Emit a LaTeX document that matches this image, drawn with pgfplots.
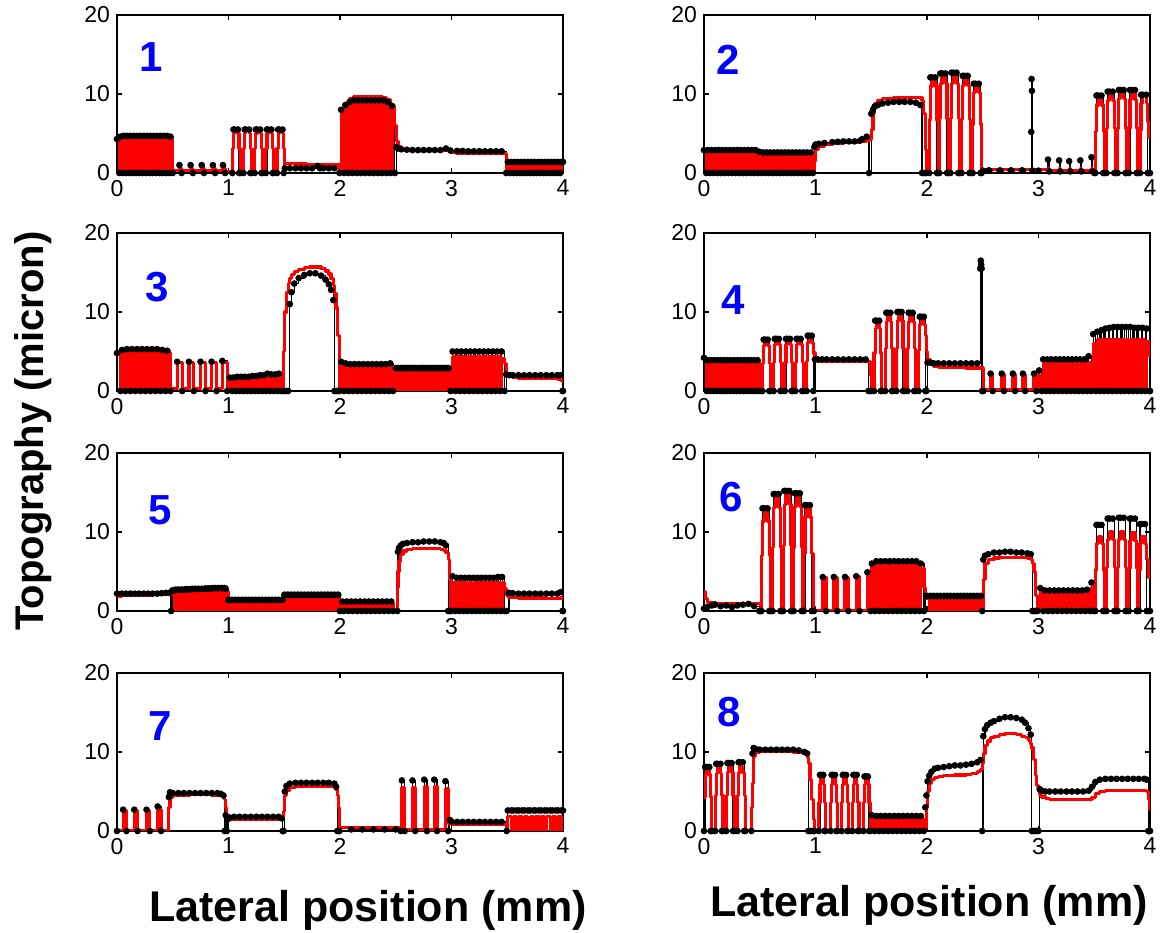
\documentclass[border=0pt]{standalone}
\usepackage{fontspec}
\setmainfont{Liberation Sans}
\usepackage{pgfplots}
\usepackage{pgfplotstable}
\pgfplotsset{compat=1.18}

\pgfplotstableread[row sep=\\]{
x b r\\
0.000 4.3 4.1\\ 0.020 0 0\\ 0.030 4.6 4.4\\ 0.050 0 0\\ 0.060 4.7 4.5\\ 0.080 0 0\\ 0.090 4.7 4.5\\ 0.110 0 0\\
0.120 4.7 4.5\\ 0.140 0 0\\ 0.150 4.7 4.5\\ 0.170 0 0\\ 0.180 4.7 4.5\\ 0.200 0 0\\ 0.210 4.7 4.5\\ 0.230 0 0\\
0.240 4.7 4.5\\ 0.260 0 0\\ 0.270 4.7 4.5\\ 0.290 0 0\\ 0.300 4.7 4.5\\ 0.320 0 0\\ 0.330 4.7 4.5\\ 0.350 0 0\\
0.360 4.7 4.5\\ 0.380 0 0\\ 0.390 4.7 4.5\\ 0.410 0 0\\ 0.420 4.7 4.5\\ 0.440 0 0\\ 0.450 4.7 4.5\\ 0.470 0 0\\
0.480 4.6 4.5\\ 0.500 0 0.3\\
0.560 1.0 0.5\\ 0.580 0 0.3\\ 0.660 1.0 0.5\\ 0.680 0 0.3\\ 0.760 1.0 0.5\\ 0.780 0 0.3\\ 0.860 1.0 0.5\\ 0.880 0 0.3\\ 0.950 1.0 0.5\\ 0.970 0 0.2\\
1.035 0 3.1\\ 1.045 5.5 5.0\\ 1.055 5.5 5.6\\ 1.085 5.5 5.0\\ 1.095 0 3.1\\ 1.105 0 0.1\\
1.135 0 3.1\\ 1.145 5.5 5.0\\ 1.155 5.5 5.6\\ 1.185 5.5 5.0\\ 1.195 0 3.1\\ 1.205 0 0.1\\
1.235 0 3.1\\ 1.245 5.5 5.0\\ 1.255 5.5 5.6\\ 1.285 5.5 5.0\\ 1.295 0 3.1\\ 1.305 0 0.1\\
1.335 0 3.1\\ 1.345 5.5 5.0\\ 1.355 5.5 5.6\\ 1.385 5.5 5.0\\ 1.395 0 3.1\\ 1.405 0 0.1\\
1.435 0 3.1\\ 1.445 5.5 5.0\\ 1.455 5.5 5.6\\ 1.485 5.5 5.0\\ 1.495 0 3.1\\
1.505 0.6 1.2\\ 1.55 0.6 1.2\\ 1.60 0.6 1.15\\ 1.65 0.6 1.15\\ 1.70 0.6 1.1\\ 1.75 0.6 1.1\\ 1.80 0.9 1.1\\ 1.82 0.6 1.05\\ 1.85 0.6 1.05\\ 1.90 0.6 1.0\\ 1.95 0.6 1.0\\ 1.995 0 0\\
2.010 8.0 7.9\\ 2.036 0 0\\ 2.048 8.6 8.8\\ 2.074 0 0\\ 2.086 9.0 9.4\\ 2.112 0 0\\ 2.124 9.2 9.7\\ 2.150 0 0\\
2.162 9.2 9.7\\ 2.188 0 0\\ 2.200 9.2 9.7\\ 2.226 0 0\\ 2.238 9.2 9.7\\ 2.264 0 0\\ 2.276 9.2 9.7\\ 2.302 0 0\\
2.314 9.2 9.7\\ 2.340 0 0\\ 2.352 9.2 9.7\\ 2.378 0 0\\ 2.390 9.2 9.6\\ 2.416 0 0\\ 2.428 9.0 9.3\\ 2.454 0 0\\
2.466 8.5 8.5\\ 2.492 0 6.0\\
2.505 3.3 4.0\\ 2.520 3.1 3.3\\ 2.550 3.0 3.0\\ 2.600 2.95 2.85\\ 2.65 2.9 2.8\\ 2.70 2.9 2.8\\ 2.75 2.9 2.8\\ 2.80 2.9 2.8\\ 2.85 2.9 2.8\\ 2.90 2.9 2.8\\
2.950 3.1 2.95\\ 2.990 2.85 2.6\\ 3.050 2.8 2.5\\ 3.10 2.8 2.45\\ 3.15 2.75 2.45\\ 3.20 2.75 2.45\\ 3.25 2.75 2.45\\ 3.30 2.75 2.45\\ 3.35 2.75 2.45\\ 3.40 2.75 2.45\\ 3.45 2.75 2.45\\ 3.490 0 0\\
3.505 1.4 1.0\\ 3.525 0 0\\ 3.535 1.4 1.0\\ 3.555 0 0\\ 3.565 1.4 1.0\\ 3.585 0 0\\ 3.595 1.4 1.0\\ 3.615 0 0\\
3.625 1.4 1.0\\ 3.645 0 0\\ 3.655 1.4 1.0\\ 3.675 0 0\\ 3.685 1.4 1.0\\ 3.705 0 0\\ 3.715 1.4 1.0\\ 3.735 0 0\\
3.745 1.4 1.0\\ 3.765 0 0\\ 3.775 1.4 1.0\\ 3.795 0 0\\ 3.805 1.4 1.0\\ 3.825 0 0\\ 3.835 1.4 1.0\\ 3.855 0 0\\
3.865 1.4 1.0\\ 3.885 0 0\\ 3.895 1.4 1.0\\ 3.915 0 0\\ 3.925 1.4 1.0\\ 3.945 0 0\\ 3.955 1.4 1.0\\ 3.975 0 0\\
3.985 1.4 1.0\\ 4.000 1.4 1.0\\
}\tA

\pgfplotstableread[row sep=\\]{
x b r\\
0.000 2.9 2.8\\ 0.020 0 0\\ 0.033 2.9 2.8\\ 0.053 0 0\\ 0.066 2.9 2.8\\ 0.086 0 0\\ 0.099 2.9 2.8\\ 0.119 0 0\\
0.132 2.9 2.8\\ 0.152 0 0\\ 0.165 2.9 2.8\\ 0.185 0 0\\ 0.198 2.9 2.8\\ 0.218 0 0\\ 0.231 2.9 2.8\\ 0.251 0 0\\
0.264 2.9 2.8\\ 0.284 0 0\\ 0.297 2.9 2.8\\ 0.317 0 0\\ 0.330 2.9 2.8\\ 0.350 0 0\\ 0.363 2.9 2.8\\ 0.383 0 0\\
0.396 2.9 2.8\\ 0.416 0 0\\ 0.429 2.9 2.8\\ 0.449 0 0\\ 0.462 2.9 2.8\\ 0.482 0 0\\ 0.495 2.7 2.6\\ 0.515 0 0\\
0.528 2.6 2.5\\ 0.548 0 0\\ 0.561 2.6 2.5\\ 0.581 0 0\\ 0.594 2.6 2.5\\ 0.614 0 0\\ 0.627 2.6 2.5\\ 0.647 0 0\\
0.660 2.6 2.5\\ 0.680 0 0\\ 0.693 2.6 2.5\\ 0.713 0 0\\ 0.726 2.6 2.5\\ 0.746 0 0\\ 0.759 2.6 2.5\\ 0.779 0 0\\
0.792 2.6 2.5\\ 0.812 0 0\\ 0.825 2.6 2.5\\ 0.845 0 0\\ 0.858 2.6 2.5\\ 0.878 0 0\\ 0.891 2.6 2.5\\ 0.911 0 0\\
0.924 2.6 2.5\\ 0.944 0 0\\ 0.957 2.6 2.5\\ 0.977 0 0\\
0.990 3.3 1.5\\ 1.000 3.6 3.0\\ 1.030 3.7 3.4\\ 1.080 3.8 3.6\\ 1.150 3.9 3.75\\ 1.200 3.95 3.8\\ 1.250 4.0 3.85\\ 1.300 4.0 3.85\\ 1.350 4.0 3.9\\ 1.400 4.1 3.95\\ 1.420 4.3 4.0\\ 1.460 4.6 4.1\\ 1.480 0 4.3\\
1.500 7.5 5.5\\ 1.515 8.0 7.5\\ 1.530 8.4 8.8\\ 1.560 8.6 9.2\\ 1.600 8.8 9.4\\ 1.650 8.9 9.45\\ 1.700 9.0 9.5\\ 1.750 9.0 9.5\\ 1.800 9.0 9.6\\ 1.850 9.0 9.6\\ 1.900 8.9 9.6\\ 1.940 8.6 9.5\\ 1.955 0 9.2\\ 1.970 0 7.5\\ 1.985 0 3.0\\ 1.995 0 0\\
2.020 0 6.7\\ 2.030 12.1 11.0\\ 2.045 12.1 12.2\\ 2.075 12.1 11.0\\ 2.090 0 6.7\\ 2.100 0 0\\
2.110 0 6.9\\ 2.120 12.6 11.3\\ 2.135 12.6 12.6\\ 2.165 12.6 11.3\\ 2.180 0 6.9\\ 2.190 0 0\\
2.210 0 6.9\\ 2.220 12.7 11.3\\ 2.235 12.7 12.6\\ 2.265 12.7 11.3\\ 2.280 0 6.9\\ 2.290 0 0\\
2.310 0 6.8\\ 2.320 12.3 11.1\\ 2.335 12.3 12.3\\ 2.365 12.3 11.1\\ 2.380 0 6.8\\ 2.390 0 0\\
2.410 0 6.2\\ 2.420 11.3 10.2\\ 2.435 11.3 11.3\\ 2.465 11.3 10.2\\ 2.480 0 6.2\\ 2.490 0 0\\
2.500 0.3 0.4\\ 2.550 0.3 0.55\\ 2.560 0.3 0.4\\ 2.650 0.3 0.55\\ 2.660 0.3 0.4\\ 2.750 0.3 0.55\\ 2.760 0.3 0.4\\ 2.850 0.3 0.55\\ 2.860 0.3 0.4\\
2.935 5.2 0.4\\ 2.938 11.9 0.4\\ 2.941 10.4 0.4\\ 2.944 0.3 0.4\\ 3.000 0.3 0.4\\
3.085 1.7 0.5\\ 3.095 0.2 0.35\\ 3.185 1.6 0.5\\ 3.195 0.2 0.35\\ 3.275 1.5 0.5\\ 3.285 0.2 0.35\\ 3.375 1.6 0.5\\ 3.385 0.2 0.35\\ 3.475 2.0 0.5\\ 3.485 0.2 0.35\\ 3.500 0 0.35\\
3.510 0 5.3\\ 3.520 9.8 8.6\\ 3.535 9.8 9.6\\ 3.565 9.8 8.6\\ 3.580 0 5.3\\ 3.590 0 0\\
3.610 0 5.6\\ 3.620 10.3 9.2\\ 3.635 10.3 10.2\\ 3.665 10.3 9.2\\ 3.680 0 5.6\\ 3.690 0 0\\
3.710 0 5.7\\ 3.720 10.5 9.4\\ 3.735 10.5 10.4\\ 3.765 10.5 9.4\\ 3.780 0 5.7\\ 3.790 0 0\\
3.810 0 5.7\\ 3.820 10.5 9.3\\ 3.835 10.5 10.3\\ 3.865 10.5 9.3\\ 3.880 0 5.7\\ 3.890 0 0\\
3.910 0 5.4\\ 3.920 9.9 8.8\\ 3.935 9.9 9.8\\ 3.965 9.9 8.8\\ 3.980 0 6.5\\ 3.990 0 4.5\\ 4.000 0 4.5\\
}\tB

\pgfplotstableread[row sep=\\]{
x b r\\
0.000 4.8 4.6\\ 0.030 0 0\\ 0.045 5.2 5.0\\ 0.075 0 0\\ 0.090 5.3 5.1\\ 0.120 0 0\\ 0.135 5.3 5.1\\ 0.165 0 0\\
0.180 5.3 5.1\\ 0.210 0 0\\ 0.225 5.3 5.1\\ 0.255 0 0\\ 0.270 5.3 5.1\\ 0.300 0 0\\ 0.315 5.3 5.1\\ 0.345 0 0\\
0.360 5.3 5.1\\ 0.390 0 0\\ 0.405 5.2 5.0\\ 0.435 0 0\\ 0.450 5.1 4.9\\ 0.480 0 0.3\\
0.540 3.7 3.6\\ 0.584 0 0.3\\ 0.645 3.7 3.6\\ 0.689 0 0.3\\ 0.749 3.7 3.6\\ 0.793 0 0.3\\ 0.848 3.7 3.6\\ 0.892 0 0.3\\ 0.944 3.8 3.6\\ 0.988 0 0.3\\
1.010 1.7 1.5\\ 1.032 0 0\\ 1.044 1.7 1.5\\ 1.066 0 0\\ 1.078 1.8 1.5\\ 1.100 0 0\\ 1.112 1.8 1.5\\ 1.134 0 0\\
1.146 1.8 1.6\\ 1.168 0 0\\ 1.180 1.8 1.6\\ 1.202 0 0\\ 1.214 1.9 1.6\\ 1.236 0 0\\ 1.248 1.9 1.6\\ 1.270 0 0\\
1.282 2.0 1.7\\ 1.304 0 0\\ 1.316 2.0 1.7\\ 1.338 0 0\\ 1.350 2.2 1.8\\ 1.372 0 0\\ 1.384 2.1 1.8\\ 1.406 0 0\\
1.418 2.1 1.8\\ 1.440 0 0\\ 1.452 2.2 1.8\\ 1.474 0 0\\
1.490 0 5.0\\ 1.505 0 10.0\\ 1.520 0 12.5\\ 1.535 0 13.6\\ 1.550 11.0 14.2\\ 1.565 12.5 14.7\\ 1.590 13.6 15.1\\ 1.630 14.3 15.4\\ 1.680 14.7 15.6\\ 1.730 14.9 15.7\\ 1.780 14.9 15.7\\ 1.830 14.6 15.5\\ 1.870 14.1 15.2\\ 1.900 13.5 14.8\\ 1.920 12.8 14.2\\ 1.940 11.5 13.4\\ 1.950 0 12.3\\ 1.965 0 10.5\\ 1.980 0 7.0\\ 1.995 0 0\\
2.010 3.7 3.3\\ 2.036 0 0\\ 2.050 3.5 3.1\\ 2.076 0 0\\ 2.090 3.4 3.1\\ 2.116 0 0\\ 2.130 3.4 3.1\\ 2.156 0 0\\
2.170 3.4 3.1\\ 2.196 0 0\\ 2.210 3.4 3.1\\ 2.236 0 0\\ 2.250 3.4 3.1\\ 2.276 0 0\\ 2.290 3.4 3.1\\ 2.316 0 0\\
2.330 3.4 3.1\\ 2.356 0 0\\ 2.370 3.4 3.1\\ 2.396 0 0\\ 2.410 3.4 3.1\\ 2.436 0 0\\ 2.450 3.5 3.1\\ 2.476 0 0\\
2.500 2.9 2.6\\ 2.517 2.9 0\\ 2.525 2.9 2.6\\ 2.542 2.9 0\\ 2.550 2.9 2.6\\ 2.567 2.9 0\\ 2.575 2.9 2.6\\ 2.592 2.9 0\\
2.600 2.9 2.6\\ 2.617 2.9 0\\ 2.625 2.9 2.6\\ 2.642 2.9 0\\ 2.650 2.9 2.6\\ 2.667 2.9 0\\ 2.675 2.9 2.6\\ 2.692 2.9 0\\
2.700 2.9 2.6\\ 2.717 2.9 0\\ 2.725 2.9 2.6\\ 2.742 2.9 0\\ 2.750 2.9 2.6\\ 2.767 2.9 0\\ 2.775 2.9 2.6\\ 2.792 2.9 0\\
2.800 2.9 2.6\\ 2.817 2.9 0\\ 2.825 2.9 2.6\\ 2.842 2.9 0\\ 2.850 2.9 2.6\\ 2.867 2.9 0\\ 2.875 2.9 2.6\\ 2.892 2.9 0\\
2.900 2.9 2.6\\ 2.917 2.9 0\\ 2.925 2.9 2.6\\ 2.942 2.9 0\\ 2.950 2.9 2.6\\ 2.967 2.9 0\\ 2.975 2.9 2.6\\ 2.992 0 0\\
3.010 5.0 4.3\\ 3.036 0 0\\ 3.050 5.0 4.3\\ 3.076 0 0\\ 3.090 5.0 4.3\\ 3.116 0 0\\ 3.130 5.0 4.3\\ 3.156 0 0\\
3.170 5.0 4.3\\ 3.196 0 0\\ 3.210 5.0 4.3\\ 3.236 0 0\\ 3.250 5.0 4.3\\ 3.276 0 0\\ 3.290 5.0 4.3\\ 3.316 0 0\\
3.330 5.0 4.3\\ 3.356 0 0\\ 3.370 5.0 4.3\\ 3.396 0 0\\ 3.410 5.0 4.3\\ 3.436 0 0\\ 3.450 5.0 4.1\\ 3.476 0 3.5\\
3.490 2.1 2.2\\ 3.520 2.0 1.8\\ 3.550 2.0 1.7\\ 3.600 2.0 1.65\\ 3.650 2.0 1.65\\ 3.700 2.0 1.65\\ 3.750 2.0 1.65\\ 3.800 2.0 1.6\\ 3.850 2.0 1.6\\ 3.900 2.0 1.6\\ 3.950 2.0 1.5\\ 3.980 2.0 1.3\\ 3.995 0 1.3\\ 4.000 0 1.3\\
}\tC

\pgfplotstableread[row sep=\\]{
x b r\\
0.000 4.2 4.1\\ 0.024 0 0\\ 0.030 3.9 3.9\\ 0.054 0 0\\ 0.060 3.9 3.9\\ 0.084 0 0\\ 0.090 3.9 3.9\\ 0.114 0 0\\
0.120 3.9 3.9\\ 0.144 0 0\\ 0.150 3.9 3.9\\ 0.174 0 0\\ 0.180 3.9 3.9\\ 0.204 0 0\\ 0.210 3.9 3.9\\ 0.234 0 0\\
0.240 3.9 3.9\\ 0.264 0 0\\ 0.270 3.9 3.9\\ 0.294 0 0\\ 0.300 3.9 3.9\\ 0.324 0 0\\ 0.330 3.9 3.9\\ 0.354 0 0\\
0.360 3.9 3.9\\ 0.384 0 0\\ 0.390 3.9 3.9\\ 0.414 0 0\\ 0.420 3.9 3.9\\ 0.444 0 0\\ 0.450 3.9 3.9\\ 0.474 0 0\\
0.480 3.9 3.8\\ 0.500 0 0\\
0.525 0 3.5\\ 0.535 6.5 5.8\\ 0.548 6.5 6.4\\ 0.572 6.5 5.8\\ 0.585 0 3.5\\ 0.595 0 0\\
0.625 0 3.6\\ 0.635 6.6 5.9\\ 0.648 6.6 6.5\\ 0.672 6.6 5.9\\ 0.685 0 3.6\\ 0.695 0 0\\
0.725 0 3.6\\ 0.735 6.6 5.9\\ 0.748 6.6 6.5\\ 0.772 6.6 5.9\\ 0.785 0 3.6\\ 0.795 0 0\\
0.820 0 3.6\\ 0.830 6.6 5.9\\ 0.843 6.6 6.5\\ 0.867 6.6 5.9\\ 0.880 0 3.6\\ 0.890 0 0\\
0.920 0 3.7\\ 0.930 7.0 6.1\\ 0.943 7.0 6.8\\ 0.967 7.0 6.1\\ 0.980 0 4.8\\ 0.995 4.0 4.0\\
1.020 4.0 3.8\\ 1.060 4.0 3.75\\ 1.100 4.0 3.7\\ 1.150 4.0 3.7\\ 1.200 4.0 3.7\\ 1.250 4.0 3.7\\ 1.300 4.0 3.7\\ 1.350 4.0 3.7\\ 1.400 4.0 3.7\\ 1.450 4.0 3.7\\ 1.475 0 3.7\\ 1.490 0 2.0\\ 1.500 0 0\\
1.525 0 4.8\\ 1.535 8.9 7.9\\ 1.548 8.9 8.8\\ 1.572 8.9 7.9\\ 1.585 0 4.8\\ 1.595 0 0\\
1.625 0 5.4\\ 1.635 9.9 8.8\\ 1.648 9.9 9.8\\ 1.672 9.9 8.8\\ 1.685 0 5.4\\ 1.695 0 0\\
1.725 0 5.4\\ 1.735 10.0 8.9\\ 1.748 10.0 9.9\\ 1.772 10.0 8.9\\ 1.785 0 5.4\\ 1.795 0 0\\
1.825 0 5.4\\ 1.835 9.9 8.8\\ 1.848 9.9 9.8\\ 1.872 9.9 8.8\\ 1.885 0 5.4\\ 1.895 0 0\\
1.925 0 5.1\\ 1.935 9.4 8.4\\ 1.948 9.4 9.3\\ 1.972 9.4 8.4\\ 1.985 0 7.0\\ 1.995 0 5.0\\
2.005 3.6 4.0\\ 2.030 3.6 3.4\\ 2.060 3.5 3.1\\ 2.100 3.5 3.0\\ 2.150 3.5 3.0\\ 2.200 3.5 3.0\\ 2.250 3.5 2.95\\ 2.300 3.5 2.95\\ 2.350 3.5 2.9\\ 2.400 3.5 2.9\\ 2.450 3.5 2.9\\
2.478 15.5 2.9\\ 2.482 16.5 2.9\\ 2.486 16.0 2.9\\ 2.490 15.5 2.9\\ 2.494 0 2.9\\ 2.505 0 0.2\\
2.570 2.2 2.1\\ 2.590 0 0.2\\ 2.670 2.2 2.1\\ 2.690 0 0.2\\ 2.770 2.2 2.1\\ 2.790 0 0.2\\ 2.860 2.2 2.1\\ 2.880 0 0.2\\ 2.960 2.2 2.1\\ 2.980 0 0.2\\
3.005 2.6 2.0\\ 3.029 0 0\\ 3.042 4.0 3.5\\ 3.066 0 0\\ 3.079 4.0 3.5\\ 3.103 0 0\\ 3.116 4.0 3.5\\ 3.140 0 0\\
3.153 4.0 3.5\\ 3.177 0 0\\ 3.190 4.0 3.5\\ 3.214 0 0\\ 3.227 4.0 3.5\\ 3.251 0 0\\ 3.264 4.0 3.5\\ 3.288 0 0\\
3.301 4.0 3.5\\ 3.325 0 0\\ 3.338 4.0 3.5\\ 3.362 0 0\\ 3.375 4.0 3.5\\ 3.399 0 0\\ 3.412 4.0 3.5\\ 3.436 0 0\\
3.449 4.4 3.6\\ 3.473 0 0\\
3.490 7.2 6.0\\ 3.514 0 0\\ 3.527 7.5 6.5\\ 3.551 0 0\\ 3.564 7.7 6.5\\ 3.588 0 0\\ 3.601 7.9 6.5\\ 3.625 0 0\\
3.638 8.0 6.5\\ 3.662 0 0\\ 3.675 8.1 6.5\\ 3.699 0 0\\ 3.712 8.1 6.5\\ 3.736 0 0\\ 3.749 8.1 6.5\\ 3.773 0 0\\
3.786 8.1 6.5\\ 3.810 0 0\\ 3.823 8.1 6.5\\ 3.847 0 0\\ 3.860 8.0 6.5\\ 3.884 0 0\\ 3.897 8.0 6.5\\ 3.921 0 0\\
3.934 8.0 6.5\\ 3.958 0 0\\ 3.971 7.9 6.3\\ 3.995 0 4.4\\ 4.000 0 4.4\\
}\tD

\pgfplotstableread[row sep=\\]{
x b r\\
0.000 2.2 1.9\\ 0.040 2.2 1.95\\ 0.080 2.2 1.95\\ 0.120 2.2 2.0\\ 0.160 2.2 2.0\\ 0.200 2.2 2.0\\ 0.240 2.2 2.0\\ 0.280 2.2 2.0\\ 0.320 2.2 2.05\\ 0.360 2.2 2.05\\ 0.400 2.25 2.05\\ 0.440 2.3 2.1\\ 0.470 2.3 2.1\\ 0.485 0 2.1\\
0.495 2.6 2.4\\ 0.517 2.6 0\\ 0.525 2.7 2.5\\ 0.547 2.7 0\\ 0.555 2.7 2.5\\ 0.577 2.7 0\\ 0.585 2.7 2.5\\ 0.607 2.7 0\\
0.615 2.75 2.55\\ 0.637 2.75 0\\ 0.645 2.75 2.55\\ 0.667 2.75 0\\ 0.675 2.8 2.55\\ 0.697 2.8 0\\ 0.705 2.8 2.6\\ 0.727 2.8 0\\
0.735 2.8 2.6\\ 0.757 2.8 0\\ 0.765 2.8 2.6\\ 0.787 2.8 0\\ 0.795 2.85 2.6\\ 0.817 2.85 0\\ 0.825 2.85 2.6\\ 0.847 2.85 0\\
0.855 2.9 2.6\\ 0.877 2.9 0\\ 0.885 2.9 2.6\\ 0.907 2.9 0\\ 0.915 2.9 2.6\\ 0.937 2.9 0\\ 0.945 2.9 2.6\\ 0.967 2.9 0\\
0.975 2.8 2.5\\ 0.997 1.4 0\\
1.005 1.4 1.2\\ 1.027 1.4 0\\ 1.035 1.4 1.2\\ 1.057 1.4 0\\ 1.065 1.4 1.2\\ 1.087 1.4 0\\ 1.095 1.4 1.2\\ 1.117 1.4 0\\
1.125 1.4 1.2\\ 1.147 1.4 0\\ 1.155 1.4 1.2\\ 1.177 1.4 0\\ 1.185 1.4 1.2\\ 1.207 1.4 0\\ 1.215 1.4 1.2\\ 1.237 1.4 0\\
1.245 1.4 1.2\\ 1.267 1.4 0\\ 1.275 1.4 1.2\\ 1.297 1.4 0\\ 1.305 1.4 1.2\\ 1.327 1.4 0\\ 1.335 1.4 1.2\\ 1.357 1.4 0\\
1.365 1.4 1.2\\ 1.387 1.4 0\\ 1.395 1.4 1.2\\ 1.417 1.4 0\\ 1.425 1.4 1.2\\ 1.447 1.4 0\\ 1.455 1.4 1.2\\ 1.477 1.4 0\\
1.485 1.4 1.2\\ 1.500 2.05 0\\
1.505 2.05 1.9\\ 1.527 2.05 0\\ 1.535 2.05 1.9\\ 1.557 2.05 0\\ 1.565 2.05 1.9\\ 1.587 2.05 0\\ 1.595 2.05 1.9\\ 1.617 2.05 0\\
1.625 2.05 1.9\\ 1.647 2.05 0\\ 1.655 2.05 1.9\\ 1.677 2.05 0\\ 1.685 2.05 1.9\\ 1.707 2.05 0\\ 1.715 2.05 1.9\\ 1.737 2.05 0\\
1.745 2.05 1.9\\ 1.767 2.05 0\\ 1.775 2.05 1.9\\ 1.797 2.05 0\\ 1.805 2.05 1.9\\ 1.827 2.05 0\\ 1.835 2.05 1.9\\ 1.857 2.05 0\\
1.865 2.05 1.9\\ 1.887 2.05 0\\ 1.895 2.05 1.9\\ 1.917 2.05 0\\ 1.925 2.05 1.9\\ 1.947 2.05 0\\ 1.955 2.05 1.9\\ 1.977 2.05 0\\
1.985 2.05 1.9\\ 1.998 0 0\\
2.020 1.2 0.9\\ 2.035 0 0\\ 2.060 1.2 0.9\\ 2.075 0 0\\ 2.100 1.2 0.9\\ 2.115 0 0\\ 2.140 1.2 0.9\\ 2.155 0 0\\
2.180 1.2 0.9\\ 2.195 0 0\\ 2.220 1.2 0.9\\ 2.235 0 0\\ 2.260 1.2 0.9\\ 2.275 0 0\\ 2.300 1.2 0.9\\ 2.315 0 0\\
2.340 1.2 0.9\\ 2.355 0 0\\ 2.380 1.2 0.9\\ 2.395 0 0\\ 2.420 1.2 0.9\\ 2.435 0 0\\ 2.460 1.2 0.9\\ 2.475 0 0\\
2.515 0 3.0\\ 2.520 7.5 5.0\\ 2.530 8.0 6.3\\ 2.545 8.3 7.2\\ 2.565 8.5 7.6\\ 2.600 8.6 7.8\\ 2.650 8.7 7.9\\ 2.700 8.7 7.9\\ 2.750 8.8 7.9\\ 2.800 8.8 7.9\\ 2.850 8.8 7.9\\ 2.900 8.7 7.8\\ 2.930 8.6 7.7\\ 2.950 8.3 7.4\\ 2.970 0 6.5\\ 2.985 0 4.0\\ 2.995 0 0\\
3.010 4.4 3.6\\ 3.034 0 0\\ 3.047 4.2 3.6\\ 3.071 0 0\\ 3.084 4.2 3.6\\ 3.108 0 0\\ 3.121 4.2 3.6\\ 3.145 0 0\\
3.158 4.2 3.6\\ 3.182 0 0\\ 3.195 4.2 3.6\\ 3.219 0 0\\ 3.232 4.2 3.6\\ 3.256 0 0\\ 3.269 4.2 3.6\\ 3.293 0 0\\
3.306 4.2 3.6\\ 3.330 0 0\\ 3.343 4.2 3.6\\ 3.367 0 0\\ 3.380 4.2 3.6\\ 3.404 0 0\\ 3.417 4.3 3.6\\ 3.441 0 0\\
3.454 4.3 3.6\\ 3.478 0 2.8\\
3.495 0 2.0\\ 3.515 2.3 1.75\\ 3.550 2.25 1.7\\ 3.600 2.2 1.65\\ 3.650 2.2 1.65\\ 3.700 2.2 1.65\\ 3.750 2.2 1.65\\ 3.800 2.2 1.65\\ 3.850 2.2 1.6\\ 3.900 2.2 1.6\\ 3.950 2.2 1.6\\ 3.980 2.4 1.65\\ 3.995 0 1.65\\ 4.000 0 1.65\\
}\tE

\pgfplotstableread[row sep=\\]{
x b r\\
0.000 0.3 2.5\\ 0.015 0.3 1.6\\ 0.030 0.5 1.1\\ 0.070 0.7 1.0\\ 0.100 0.8 0.95\\ 0.150 0.6 0.95\\ 0.200 0.7 0.95\\ 0.250 0.5 0.95\\ 0.300 0.7 0.95\\ 0.350 0.8 0.95\\ 0.400 0.9 0.95\\ 0.450 0.6 0.95\\ 0.495 0 0.95\\ 0.505 0 0\\
0.515 0 7.0\\ 0.525 13.0 11.4\\ 0.540 13.0 12.7\\ 0.570 13.0 11.4\\ 0.585 0 7.0\\ 0.595 0 0\\
0.615 0 8.0\\ 0.625 14.8 13.1\\ 0.640 14.8 14.6\\ 0.670 14.8 13.1\\ 0.685 0 8.0\\ 0.695 0 0\\
0.710 0 8.3\\ 0.720 15.2 13.5\\ 0.735 15.2 15.0\\ 0.765 15.2 13.5\\ 0.780 0 8.3\\ 0.790 0 0\\
0.805 0 8.1\\ 0.815 14.9 13.2\\ 0.830 14.9 14.7\\ 0.860 14.9 13.2\\ 0.875 0 8.1\\ 0.885 0 0\\
0.895 0 7.3\\ 0.905 13.4 11.9\\ 0.920 13.4 13.2\\ 0.950 13.4 11.9\\ 0.965 0 7.3\\ 0.985 0 0\\
1.065 4.3 4.2\\ 1.095 0 0\\ 1.165 4.3 4.2\\ 1.195 0 0\\ 1.265 4.3 4.2\\ 1.295 0 0\\ 1.365 4.4 4.3\\ 1.395 0 0\\
1.465 4.9 4.7\\ 1.493 0 0\\ 1.505 6.0 5.6\\ 1.533 0 0\\ 1.545 6.3 5.8\\ 1.573 0 0\\ 1.585 6.3 5.8\\ 1.613 0 0\\
1.625 6.3 5.8\\ 1.653 0 0\\ 1.665 6.3 5.8\\ 1.693 0 0\\ 1.705 6.3 5.8\\ 1.733 0 0\\ 1.745 6.3 5.8\\ 1.773 0 0\\
1.785 6.3 5.8\\ 1.813 0 0\\ 1.825 6.3 5.8\\ 1.853 0 0\\ 1.865 6.3 5.8\\ 1.893 0 0\\ 1.905 6.3 5.7\\ 1.933 0 0\\
1.945 6.0 5.4\\ 1.973 0 3.0\\ 1.990 1.9 1.6\\
2.005 1.9 1.6\\ 2.027 1.9 0\\ 2.035 1.9 1.6\\ 2.057 1.9 0\\ 2.065 1.9 1.6\\ 2.087 1.9 0\\ 2.095 1.9 1.6\\ 2.117 1.9 0\\
2.125 1.9 1.6\\ 2.147 1.9 0\\ 2.155 1.9 1.6\\ 2.177 1.9 0\\ 2.185 1.9 1.6\\ 2.207 1.9 0\\ 2.215 1.9 1.6\\ 2.237 1.9 0\\
2.245 1.9 1.6\\ 2.267 1.9 0\\ 2.275 1.9 1.6\\ 2.297 1.9 0\\ 2.305 1.9 1.6\\ 2.327 1.9 0\\ 2.335 1.9 1.6\\ 2.357 1.9 0\\
2.365 1.9 1.6\\ 2.387 1.9 0\\ 2.395 1.9 1.6\\ 2.417 1.9 0\\ 2.425 1.9 1.6\\ 2.447 1.9 0\\ 2.455 1.9 1.6\\ 2.477 1.9 0\\
2.485 1.9 1.6\\ 2.495 0 0\\
2.505 6.5 4.0\\ 2.520 7.0 6.0\\ 2.550 7.2 6.5\\ 2.600 7.4 6.7\\ 2.650 7.4 6.8\\ 2.700 7.5 6.8\\ 2.750 7.5 6.8\\ 2.800 7.4 6.8\\ 2.850 7.4 6.8\\ 2.900 7.3 6.7\\ 2.930 7.2 6.5\\ 2.945 0 6.0\\ 2.960 0 5.0\\ 2.975 0 2.0\\ 2.990 0 0\\
3.015 2.9 2.4\\ 3.043 0 0\\ 3.057 2.6 2.3\\ 3.085 0 0\\ 3.099 2.6 2.3\\ 3.127 0 0\\ 3.141 2.6 2.3\\ 3.169 0 0\\
3.183 2.6 2.3\\ 3.211 0 0\\ 3.225 2.6 2.3\\ 3.253 0 0\\ 3.267 2.6 2.3\\ 3.295 0 0\\ 3.309 2.6 2.3\\ 3.337 0 0\\
3.351 2.6 2.3\\ 3.379 0 0\\ 3.393 2.6 2.3\\ 3.421 0 0\\ 3.435 2.7 2.4\\ 3.463 0 0\\ 3.475 3.6 3.0\\ 3.495 0 0\\
3.510 0 5.2\\ 3.520 10.9 8.5\\ 3.535 10.9 9.4\\ 3.565 10.9 8.5\\ 3.580 0 5.2\\ 3.590 0 0\\
3.610 0 5.5\\ 3.620 11.7 9.0\\ 3.635 11.7 10.0\\ 3.665 11.7 9.0\\ 3.680 0 5.5\\ 3.690 0 0\\
3.710 0 5.5\\ 3.720 11.8 9.0\\ 3.735 11.8 10.0\\ 3.765 11.8 9.0\\ 3.780 0 5.5\\ 3.790 0 0\\
3.810 0 5.4\\ 3.820 11.7 8.9\\ 3.835 11.7 9.9\\ 3.865 11.7 8.9\\ 3.880 0 5.4\\ 3.890 0 0\\
3.900 0 5.2\\ 3.910 11.0 8.5\\ 3.925 11.0 9.4\\ 3.955 11.0 8.5\\ 3.970 0 6.5\\ 3.985 0 4.3\\ 4.000 0 4.3\\
}\tF

\pgfplotstableread[row sep=\\]{
x b r\\
0.000 0 0\\ 0.055 2.7 2.6\\ 0.085 0 0\\ 0.155 2.7 2.6\\ 0.185 0 0\\ 0.265 2.7 2.6\\ 0.295 0 0\\ 0.365 3.1 2.7\\ 0.395 0 0\\
0.465 4.3 3.0\\ 0.475 4.9 4.3\\ 0.500 4.8 4.5\\ 0.550 4.8 4.55\\ 0.600 4.8 4.55\\ 0.650 4.8 4.6\\ 0.700 4.8 4.6\\ 0.750 4.8 4.6\\ 0.800 4.8 4.6\\ 0.850 4.8 4.55\\ 0.900 4.8 4.55\\ 0.930 4.7 4.5\\ 0.955 4.5 4.4\\
0.965 0 4.0\\ 0.975 2.0 3.0\\ 0.985 0 2.0\\ 0.995 1.5 1.6\\ 1.010 1.7 1.5\\ 1.050 1.8 1.45\\ 1.100 1.8 1.45\\ 1.150 1.8 1.45\\ 1.200 1.8 1.45\\ 1.250 1.8 1.45\\ 1.300 1.8 1.45\\ 1.350 1.8 1.45\\ 1.400 1.8 1.5\\ 1.450 1.8 1.5\\ 1.475 1.6 1.5\\ 1.485 0 1.6\\ 1.495 0 2.5\\
1.505 5.0 4.5\\ 1.520 5.7 5.2\\ 1.550 6.0 5.5\\ 1.600 6.1 5.6\\ 1.650 6.1 5.6\\ 1.700 6.1 5.6\\ 1.750 6.1 5.6\\ 1.800 6.1 5.6\\ 1.850 6.1 5.6\\ 1.900 6.1 5.6\\ 1.950 6.0 5.5\\ 1.965 5.6 5.3\\ 1.975 0 4.5\\ 1.985 0 3.0\\ 1.995 0 0.4\\
2.100 0.2 0.4\\ 2.200 0.2 0.4\\ 2.300 0.2 0.4\\ 2.400 0.2 0.4\\ 2.500 0.2 0.4\\ 2.545 0 0\\
2.555 6.4 5.5\\ 2.580 0 0.2\\ 2.650 6.4 5.5\\ 2.675 0 0.2\\ 2.755 6.5 5.6\\ 2.780 0 0.2\\ 2.845 6.5 5.6\\ 2.870 0 0.2\\ 2.945 6.3 5.4\\ 2.970 0 1.0\\
2.985 1.4 1.0\\ 3.000 1.2 0.8\\ 3.050 1.15 0.8\\ 3.100 1.15 0.8\\ 3.150 1.15 0.8\\ 3.200 1.15 0.8\\ 3.250 1.15 0.8\\ 3.300 1.15 0.8\\ 3.350 1.15 0.8\\ 3.400 1.15 0.8\\ 3.450 1.15 0.8\\ 3.495 0 0\\
3.505 2.6 1.8\\ 3.535 2.6 0\\ 3.555 2.6 1.8\\ 3.585 2.6 0\\ 3.605 2.6 1.8\\ 3.635 2.6 0\\ 3.655 2.6 1.8\\ 3.685 2.6 0\\
3.705 2.6 1.8\\ 3.735 2.6 0\\ 3.755 2.6 1.8\\ 3.785 2.6 0\\ 3.805 2.6 1.8\\ 3.835 2.6 0\\ 3.855 2.6 1.8\\ 3.885 2.6 0\\
3.905 2.6 1.8\\ 3.935 2.6 0\\ 3.955 2.6 1.8\\ 3.985 2.6 0\\ 4.000 2.6 0\\
}\tG

\pgfplotstableread[row sep=\\]{
x b r\\
0.000 0 4.3\\ 0.010 8.1 7.1\\ 0.022 8.1 7.9\\ 0.048 8.1 7.1\\ 0.060 0 4.3\\ 0.070 0 0\\
0.100 0 4.5\\ 0.110 8.5 7.3\\ 0.122 8.5 8.1\\ 0.148 8.5 7.3\\ 0.160 0 4.5\\ 0.170 0 0\\
0.200 0 4.5\\ 0.210 8.6 7.4\\ 0.222 8.6 8.2\\ 0.248 8.6 7.4\\ 0.260 0 4.5\\ 0.270 0 0\\
0.300 0 4.5\\ 0.310 8.7 7.4\\ 0.322 8.7 8.2\\ 0.348 8.7 7.4\\ 0.360 0 4.5\\ 0.370 0 0\\
0.425 0 3.0\\ 0.435 9.8 6.0\\ 0.445 10.5 9.5\\ 0.460 10.4 10.0\\ 0.500 10.3 10.1\\ 0.550 10.3 10.1\\ 0.600 10.3 10.1\\ 0.650 10.3 10.1\\ 0.700 10.3 10.1\\ 0.750 10.3 10.1\\ 0.800 10.3 10.0\\ 0.850 10.2 10.0\\ 0.900 10.0 9.8\\ 0.925 9.8 9.3\\ 0.935 0 8.5\\ 0.950 0 6.5\\ 0.965 0 4.0\\ 0.980 0 1.5\\ 0.990 0 0\\
1.030 0 3.6\\ 1.040 7.1 5.9\\ 1.050 7.1 6.6\\ 1.070 7.1 5.9\\ 1.080 0 3.6\\ 1.090 0 0\\
1.135 0 3.6\\ 1.145 7.1 5.9\\ 1.155 7.1 6.6\\ 1.175 7.1 5.9\\ 1.185 0 3.6\\ 1.195 0 0\\
1.235 0 3.6\\ 1.245 7.1 5.9\\ 1.255 7.1 6.6\\ 1.275 7.1 5.9\\ 1.285 0 3.6\\ 1.295 0 0\\
1.330 0 3.6\\ 1.340 7.1 5.9\\ 1.350 7.1 6.6\\ 1.370 7.1 5.9\\ 1.380 0 3.6\\ 1.390 0 0\\
1.430 0 3.6\\ 1.440 6.9 5.9\\ 1.450 6.9 6.6\\ 1.470 6.9 5.9\\ 1.480 0 3.6\\ 1.490 0 0\\
1.505 2.0 1.6\\ 1.531 0 0\\ 1.545 1.9 1.6\\ 1.571 0 0\\ 1.585 1.9 1.6\\ 1.611 0 0\\ 1.625 1.9 1.6\\ 1.651 0 0\\
1.665 1.9 1.6\\ 1.691 0 0\\ 1.705 1.9 1.6\\ 1.731 0 0\\ 1.745 1.9 1.6\\ 1.771 0 0\\ 1.785 1.9 1.6\\ 1.811 0 0\\
1.825 1.9 1.6\\ 1.851 0 0\\ 1.865 1.9 1.6\\ 1.891 0 0\\ 1.905 1.9 1.6\\ 1.931 0 0\\ 1.945 1.9 1.6\\ 1.971 0 0\\
1.985 3.0 0.5\\ 1.995 4.5 3.0\\ 2.005 6.3 5.0\\ 2.020 7.0 6.0\\ 2.040 7.5 6.5\\ 2.070 7.9 6.8\\ 2.100 8.0 6.9\\ 2.150 8.1 7.0\\ 2.200 8.2 7.0\\ 2.250 8.3 7.1\\ 2.300 8.3 7.1\\ 2.350 8.4 7.2\\ 2.400 8.5 7.3\\ 2.450 8.7 7.5\\ 2.480 9.0 7.8\\ 2.495 0 8.5\\
2.505 12.0 9.8\\ 2.520 12.9 10.8\\ 2.540 13.4 11.4\\ 2.570 13.7 11.8\\ 2.600 13.9 12.0\\ 2.650 14.2 12.2\\ 2.700 14.4 12.3\\ 2.750 14.4 12.3\\ 2.800 14.3 12.2\\ 2.850 14.1 12.0\\ 2.880 13.7 11.8\\ 2.910 13.0 11.5\\ 2.930 12.2 11.0\\ 2.940 0 10.5\\ 2.955 0 9.0\\ 2.970 0 7.0\\ 2.985 0 5.8\\ 3.000 0 5.0\\
3.010 5.3 4.6\\ 3.030 5.1 4.3\\ 3.060 5.0 4.1\\ 3.100 5.0 4.0\\ 3.150 5.0 4.0\\ 3.200 5.0 4.0\\ 3.250 5.0 4.0\\ 3.300 5.0 4.0\\ 3.350 5.0 4.0\\ 3.400 5.0 4.0\\ 3.450 5.1 4.0\\ 3.480 5.6 4.2\\ 3.510 6.2 4.7\\ 3.550 6.5 5.0\\ 3.600 6.6 5.1\\ 3.650 6.6 5.1\\ 3.700 6.6 5.1\\ 3.750 6.6 5.1\\ 3.800 6.6 5.1\\ 3.850 6.6 5.1\\ 3.900 6.6 5.1\\ 3.950 6.6 5.1\\ 3.970 6.5 5.0\\ 3.985 0 4.0\\ 3.995 0 2.7\\ 4.000 0 2.7\\
}\tH

\pgfplotsset{
  panel/.style={
    width=223pt, height=79pt, scale only axis, anchor=south west,
    xmin=0, xmax=4, ymin=0, ymax=20,
    xtick={0,1,2,3,4}, ytick={0,10,20},
    tick align=inside, major tick length=2.5pt,
    axis line style={line width=0.6pt}, tick style={line width=0.6pt, black},
    ticklabel style={font=\fontsize{11.5}{12}\selectfont},
    /pgf/number format/assume math mode=true,
  },
}
\tikzset{num/.style={font=\fontsize{21}{21}\selectfont\bfseries, text=blue}}
\newcommand{\panelplots}[1]{%
  \addplot[const plot, black, line width=0.6pt, mark=*, mark size=1.35pt] table[x=x,y=b]{#1};
  \addplot[const plot, red, line width=1.6pt, line join=round] table[x=x,y=r]{#1};
}

\begin{document}
\begin{tikzpicture}
\useasboundingbox (0,0) rectangle (584.5pt,466.5pt);
\begin{axis}[panel, at={(58.5pt,380pt)}]
\panelplots{\tA}
\node[num] at (axis cs:0.31,14.7) {1};
\end{axis}
\begin{axis}[panel, at={(352pt,380pt)}]
\panelplots{\tB}
\node[num] at (axis cs:0.215,14.3) {2};
\end{axis}
\begin{axis}[panel, at={(58.5pt,271pt)}]
\panelplots{\tC}
\node[num] at (axis cs:0.36,13.2) {3};
\end{axis}
\begin{axis}[panel, at={(352pt,271pt)}]
\panelplots{\tD}
\node[num] at (axis cs:0.26,11.5) {4};
\end{axis}
\begin{axis}[panel, at={(58.5pt,161pt)}]
\panelplots{\tE}
\node[num] at (axis cs:0.39,12.8) {5};
\end{axis}
\begin{axis}[panel, at={(352pt,161pt)}]
\panelplots{\tF}
\node[num] at (axis cs:0.24,14.4) {6};
\end{axis}
\begin{axis}[panel, at={(58.5pt,51pt)}]
\panelplots{\tG}
\node[num] at (axis cs:0.39,13.3) {7};
\end{axis}
\begin{axis}[panel, at={(352pt,51pt)}]
\panelplots{\tH}
\node[num] at (axis cs:0.23,15.1) {8};
\end{axis}
\node[font=\fontsize{20}{22}\selectfont\bfseries, rotate=90] at (16.5pt,251pt) {Topography (micron)};
\node[font=\fontsize{21.5}{24}\selectfont\bfseries] at (184pt,11.5pt) {Lateral position (mm)};
\node[font=\fontsize{21.5}{24}\selectfont\bfseries] at (464.5pt,14pt) {Lateral position (mm)};
\end{tikzpicture}
\end{document}
